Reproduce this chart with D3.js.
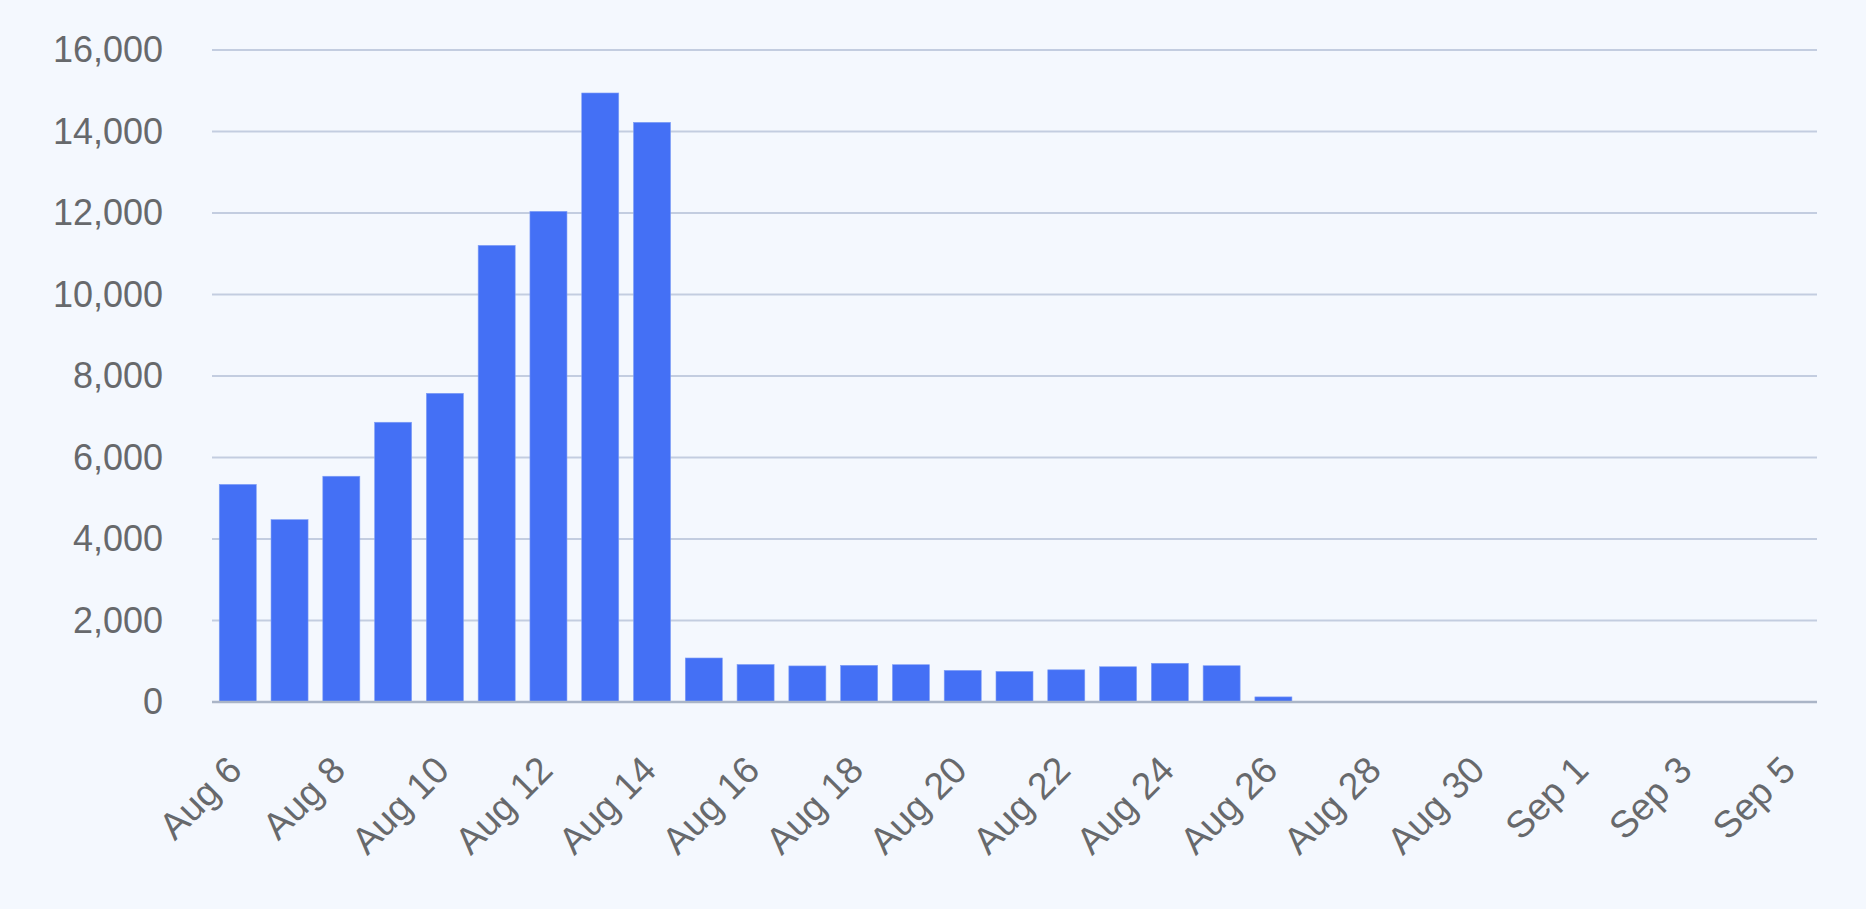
<!DOCTYPE html>
<html>
<head>
<meta charset="utf-8">
<script src="https://cdn.jsdelivr.net/npm/d3@7"></script>
<style>
  html, body { margin: 0; padding: 0; background: #f4f8fe; }
  svg { display: block; }
  text { font-family: "Liberation Sans", Arial, Helvetica, sans-serif; }
</style>
</head>
<body>
<svg id="chart" width="1866" height="909"></svg>
<script>
const categories = ["Aug 6","Aug 7","Aug 8","Aug 9","Aug 10","Aug 11","Aug 12","Aug 13","Aug 14","Aug 15",
  "Aug 16","Aug 17","Aug 18","Aug 19","Aug 20","Aug 21","Aug 22","Aug 23","Aug 24","Aug 25",
  "Aug 26","Aug 27","Aug 28","Aug 29","Aug 30","Aug 31","Sep 1","Sep 2","Sep 3","Sep 4","Sep 5"];
const values = [5340, 4475, 5540, 6865, 7575, 11205, 12040, 14945, 14225, 1080,
  920, 885, 900, 915, 775, 750, 790, 865, 950, 890,
  125, 0, 0, 0, 0, 0, 0, 0, 0, 0, 0];
const xTickLabels = ["Aug 6","Aug 8","Aug 10","Aug 12","Aug 14","Aug 16","Aug 18","Aug 20","Aug 22","Aug 24","Aug 26","Aug 28","Aug 30","Sep 1","Sep 3","Sep 5"];
const yTicks = [0, 2000, 4000, 6000, 8000, 10000, 12000, 14000, 16000];

const svg = d3.select("#chart");
const plotLeft = 212, plotRight = 1817, plotTop = 50, plotBottom = 702;

const x = d3.scaleBand().domain(categories).range([plotLeft, plotRight]).paddingInner(0.285).paddingOuter(0.14);
const y = d3.scaleLinear().domain([0, 16000]).range([plotBottom, plotTop]);

// gridlines
svg.append("g").selectAll("line").data(yTicks.filter(d => d !== 0)).join("line")
  .attr("x1", plotLeft).attr("x2", plotRight)
  .attr("y1", d => y(d)).attr("y2", d => y(d))
  .attr("stroke", "#c3cde0").attr("stroke-width", 2.2);

// y axis labels
const yAxis = d3.axisLeft(y).tickValues(yTicks).tickSize(0).tickPadding(0)
  .tickFormat(d3.format(","));
const gy = svg.append("g").attr("transform", `translate(163,0)`).call(yAxis);
gy.select(".domain").remove();
gy.selectAll("text").attr("font-size", 36).attr("fill", "#67696c")
  .attr("font-family", "Liberation Sans, Arial, sans-serif");

// bars
svg.append("g").selectAll("rect").data(values).join("rect")
  .attr("x", (d, i) => x(categories[i]))
  .attr("width", x.bandwidth())
  .attr("y", d => y(d))
  .attr("height", d => y(0) - y(d))
  .attr("fill", "#4470f5")
  .attr("stroke", "#7f9ef6").attr("stroke-width", 0.6);

// baseline
svg.append("line").attr("x1", plotLeft).attr("x2", plotRight)
  .attr("y1", y(0)).attr("y2", y(0))
  .attr("stroke", "#aab5c7").attr("stroke-width", 2.6);

// x axis labels
const xAxis = d3.axisBottom(x).tickValues(xTickLabels).tickSize(0).tickPadding(0);
const gx = svg.append("g").attr("transform", `translate(0,${plotBottom})`).call(xAxis);
gx.select(".domain").remove();
gx.selectAll("text")
  .attr("font-size", 37.5).attr("fill", "#67696c")
  .attr("font-family", "Liberation Sans, Arial, sans-serif")
  .attr("text-anchor", "end")
  .attr("dy", "0.35em")
  .attr("transform", "translate(-3,61) rotate(-45)");
</script>
</body>
</html>
